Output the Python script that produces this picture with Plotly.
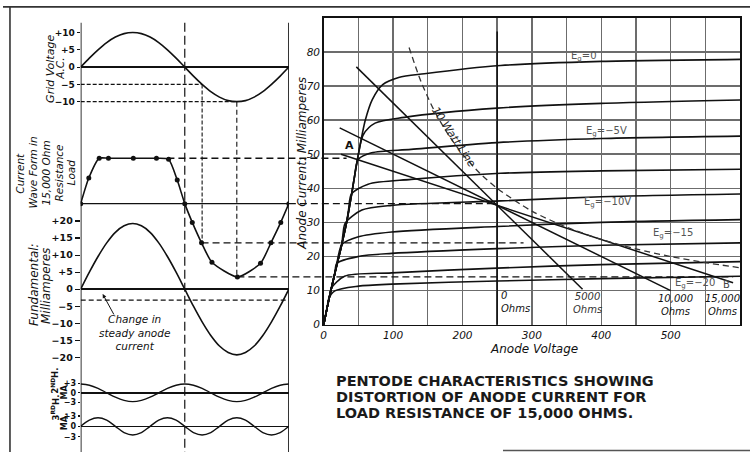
import plotly.graph_objects as go

W, H = 750, 458

# ---------------- data ----------------
# left-hand waveforms (one cycle, degrees)
deg = [0, 15, 30, 45, 60, 75, 90, 105, 120, 135, 150, 165, 180,
       195, 210, 225, 240, 255, 270, 285, 300, 315, 330, 345, 360]
grid_volts = [0, 2.6, 5, 7.1, 8.7, 9.7, 10, 9.7, 8.7, 7.1, 5, 2.6, 0,
              -2.6, -5, -7.1, -8.7, -9.7, -10, -9.7, -8.7, -7.1, -5, -2.6, 0]
fundamental_ma = [0, 5, 9.6, 13.6, 16.7, 18.6, 19.3, 18.6, 16.7, 13.6, 9.6, 5, 0,
                  -5, -9.6, -13.6, -16.7, -18.6, -19.3, -18.6, -16.7, -13.6, -9.6, -5, 0]
second_h_ma = [2.8, 2.4, 1.4, 0, -1.4, -2.4, -2.8, -2.4, -1.4, 0, 1.4, 2.4, 2.8,
               2.4, 1.4, 0, -1.4, -2.4, -2.8, -2.4, -1.4, 0, 1.4, 2.4, 2.8]
third_h_ma = [0, 1.8, 2.5, 1.8, 0, -1.8, -2.5, -1.8, 0, 1.8, 2.5, 1.8, 0,
              -1.8, -2.5, -1.8, 0, 1.8, 2.5, 1.8, 0, -1.8, -2.5, -1.8, 0]

wave_deg = [0, 14, 32, 48, 91, 131, 152, 167, 180, 193, 209, 227, 271, 311, 329, 346, 360]
wave_ma = [35.5, 43, 48.8, 48.8, 48.8, 48.8, 48.5, 42.4, 35.5, 30, 24, 18.3, 14, 18, 24, 30, 35.5]

baseline_ma = 35.5
steady_change_ma = -3.2

# pentode characteristic: common rising envelope + plateau of each curve
knee_v = [0, 7, 16, 26, 33, 40, 50, 60]
knee_ma = [0, 7, 15, 23.5, 30, 38, 50, 60]
curve_v = [
    [60, 70, 85, 108, 145, 255, 400, 600],
    [50, 57, 74, 116, 250, 400, 600],
    [44, 50, 69, 126, 250, 400, 600],
    [36, 40, 64, 126, 255, 400, 600],
    [28, 31, 55, 98, 255, 400, 600],
    [22, 26, 50, 98, 250, 400, 600],
    [16, 19, 50, 98, 250, 400, 600],
    [9, 11, 30, 98, 250, 400, 600],
    [5, 7, 16, 50, 98, 250, 400, 600],
]
curve_ma = [
    [60, 66, 70.4, 72.5, 73.6, 76, 77.2, 77.8],
    [50, 55.7, 59.1, 60.8, 63.5, 64.9, 65.9],
    [43, 48.5, 50.4, 51.4, 53.4, 54.6, 55.3],
    [34, 38.3, 41.2, 42.6, 44.4, 45.1, 45.6],
    [27, 29.8, 33.6, 35, 36.3, 37.5, 38.3],
    [21, 23.5, 25.8, 27.2, 28.8, 30, 30.8],
    [15, 18, 20, 20.9, 22.3, 23.3, 24],
    [9, 10.7, 14.2, 15.2, 16.6, 17.6, 18.5],
    [5, 7.5, 9.9, 11.3, 11.9, 12.8, 13.5, 14.2],
]

# load lines (anode volts, mA)
load_0_v, load_0_ma = [250, 250], [0, 86]
load_5k_v, load_5k_ma = [47, 373], [75.6, 10.4]
load_10k_v, load_10k_ma = [23, 500], [57.7, 10]
load_15k_v, load_15k_ma = [25, 590], [50, 12.3]

# 10 watt dissipation line
watt_v = [123, 140, 160, 180, 200, 225, 250, 300, 350, 400, 450, 500, 550, 600]
watt_ma = [81.3, 71.4, 62.5, 55.6, 50, 44.4, 40, 33.3, 28.6, 25, 22.2, 20, 18.2, 16.7]

# projection lines (mA, start deg, end volts)
proj_top = (48.8, 150, 33)
proj_base = (35.5, 360, 250)
proj_mid = (24, 209, 288)
proj_low = (14, 271, 590)

# ---------------- geometry helpers ----------------
def px_x(px):
    return px / W

def px_y(py):
    return 1 - py / H

L_X0, L_X1 = 78, 287      # 0 deg, 360 deg
R_X0, R_X1 = 322, 740     # 0 V, 600 V
R_Y0, R_Y1 = 329, 18      # 0 mA, 90 mA
R_SCALE = (R_Y0 - R_Y1) / 90.0

def deg_paper(d):
    return px_x(L_X0 + d * (L_X1 - L_X0) / 360.0)

def volt_paper(v):
    return px_x(R_X0 + v * (R_X1 - R_X0) / 600.0)

class Panel:
    def __init__(self, top, bot, ref_py, scale):
        self.top, self.bot, self.ref_py, self.scale = top, bot, ref_py, scale
    def domain(self):
        return [px_y(self.bot), px_y(self.top)]
    def rng(self):
        return [-(self.bot - self.ref_py) / self.scale, (self.ref_py - self.top) / self.scale]
    def paper(self, v):
        return px_y(self.ref_py - v * self.scale)

P1 = Panel(20, 125, 68, 3.5)          # grid voltage
P2 = Panel(110, 300, R_Y0, R_SCALE)   # current wave form (same scale as right chart)
P3 = Panel(205, 380, 293, 3.45)       # fundamental
P4 = Panel(380, 415, 398, 3.2)        # 2nd harmonic
P5 = Panel(414, 452, 432, 3.5)        # 3rd harmonic

INK = '#111111'
GRID = '#6c6c6c'
FONT = 'DejaVu Sans'

fig = go.Figure()

def line_trace(x, y, xa, ya, width=1.6, dash=None, shape='spline', smoothing=1.0, color=INK):
    fig.add_trace(go.Scatter(x=x, y=y, xaxis=xa, yaxis=ya, mode='lines',
                             line=dict(color=color, width=width, dash=dash, shape=shape,
                                       smoothing=smoothing if shape == 'spline' else None),
                             hoverinfo='skip', showlegend=False))

# left waveforms
line_trace(deg, grid_volts, 'x', 'y')
fig.add_trace(go.Scatter(x=wave_deg, y=wave_ma, xaxis='x', yaxis='y2', mode='lines+markers',
                         line=dict(color=INK, width=1.6, shape='spline', smoothing=0.6),
                         marker=dict(color=INK, size=5), hoverinfo='skip', showlegend=False))
line_trace(deg, fundamental_ma, 'x', 'y3')
line_trace(deg, second_h_ma, 'x', 'y4', width=1.4)
line_trace(deg, third_h_ma, 'x', 'y5', width=1.4)

# characteristic curves
for cv, cm in zip(curve_v, curve_ma):
    xs = [v for v in knee_v if v < cv[0]] + cv
    ys = [m for v, m in zip(knee_v, knee_ma) if v < cv[0]] + cm
    line_trace(xs, ys, 'x2', 'y6', width=1.6, smoothing=0.8)

for lv, lm in [(load_0_v, load_0_ma), (load_5k_v, load_5k_ma),
               (load_10k_v, load_10k_ma), (load_15k_v, load_15k_ma)]:
    line_trace(lv, lm, 'x2', 'y6', width=1.5, shape='linear')

line_trace(watt_v, watt_ma, 'x2', 'y6', width=1.3, dash='6px,4px', smoothing=0.8, color='#333')

# ---------------- shapes ----------------
shapes = []
def add_line(x0, y0, x1, y1, xref, yref, width=1.5, dash='solid', color=INK):
    shapes.append(dict(type='line', x0=x0, y0=y0, x1=x1, y1=y1, xref=xref, yref=yref,
                       line=dict(color=color, width=width, dash=dash), layer='above'))

# page frame
add_line(px_x(0), px_y(7), px_x(750), px_y(7), 'paper', 'paper', 1.6, color='#333')
add_line(px_x(7), px_y(7), px_x(7), px_y(458), 'paper', 'paper', 1.6, color='#333')
add_line(px_x(502), px_y(456.5), px_x(750), px_y(456.5), 'paper', 'paper', 1.4, color='#555')

# left axis lines
add_line(0, px_y(23), 0, px_y(458), 'x', 'paper', 1.7)
add_line(360, px_y(23), 360, px_y(458), 'x', 'paper', 1.7)
add_line(180, px_y(23), 180, px_y(458), 'x', 'paper', 1.2, '9px,4px')

# current baseline & steady change
add_line(0, baseline_ma, 360, baseline_ma, 'x', 'y2', 1.4)
add_line(0, steady_change_ma, 360, steady_change_ma, 'x', 'y3', 1.2, '5px,3px')

# grid voltage projections
add_line(0, -5, 210, -5, 'x', 'y', 1.1, '4px,2px')
add_line(0, -10, 270, -10, 'x', 'y', 1.1, '4px,2px')
add_line(210, P1.paper(-5), 210, P2.paper(proj_mid[0]), 'x', 'paper', 1.1, '4px,2px')
add_line(270, P1.paper(-10), 270, P2.paper(proj_low[0]), 'x', 'paper', 1.1, '5px,3px')

# current projections into the characteristic chart
for ma, d0, v1 in [proj_top, proj_base, proj_mid, proj_low]:
    add_line(deg_paper(d0), ma, volt_paper(v1), ma, 'paper', 'y6', 1.3, '7px,4px')

# ---------------- annotations ----------------
ann = []
def text(x, y, s, xref='paper', yref='paper', size=11, angle=0, italic=False, bold=False,
         color=INK, xanchor='center', yanchor='middle', align='center'):
    ann.append(dict(x=x, y=y, xref=xref, yref=yref, text=s, showarrow=False, textangle=angle,
                    xanchor=xanchor, yanchor=yanchor, align=align,
                    font=dict(family=FONT, size=size, color=color,
                              style='italic' if italic else 'normal',
                              weight='bold' if bold else 'normal')))

# left panel labels
text(px_x(57), px_y(70), 'A.C.', size=10.5, angle=-90, italic=True)
text(px_x(47), px_y(70), 'Grid Voltage', size=11, angle=-90, italic=True)
for xp, s in [(17, 'Current'), (30, 'Wave Form in'), (43, '15,000 Ohm'),
              (56, 'Resistance'), (68, 'Load')]:
    text(px_x(xp), px_y(175), s, size=10.5, angle=-90, italic=True)
text(px_x(31), px_y(288), 'Fundamental:', size=12, angle=-90, italic=True)
text(px_x(43), px_y(290), 'Milliamperes', size=12, angle=-90, italic=True)
text(px_x(52), px_y(386), '2<sup>ND</sup>H.', size=8.5, angle=-90, bold=True)
text(px_x(62), px_y(396), 'MA.', size=8, angle=-90, bold=True)
text(px_x(52), px_y(413), '3<sup>RD</sup>H.', size=8.5, angle=-90, bold=True)
text(px_x(62), px_y(427), 'MA.', size=8, angle=-90, bold=True)
text(px_x(132), px_y(337), 'Change in<br>steady anode<br>current', size=10.5, italic=True)
ann.append(dict(x=38, y=-1.4, xref='x', yref='y3', text='', showarrow=True,
                ax=12, ay=22, arrowhead=2, arrowsize=0.8, arrowwidth=1, arrowcolor=INK))

# right chart labels
text(px_x(300), px_y(165), 'Anode Current: Milliamperes', size=12, angle=-90, italic=True)
text(px_x(533), px_y(354), 'Anode Voltage', size=12, italic=True)
text(188, 55, '10 Watt Line', 'x2', 'y6', size=11, angle=56.5, italic=True, color='#222')
text(37, 52.4, 'A', 'x2', 'y6', size=11, bold=True)
text(581, 11.9, 'B', 'x2', 'y6', size=10, color='#444')
GRAY = '#555555'
text(375, 78.7, 'E<sub>g</sub>=0', 'x2', 'y6', size=10, color=GRAY)
text(408, 56.7, 'E<sub>g</sub>=−5V', 'x2', 'y6', size=10, color=GRAY)
text(409, 35.9, 'E<sub>g</sub>=−10V', 'x2', 'y6', size=10, color=GRAY)
text(504, 26.6, 'E<sub>g</sub>=−15', 'x2', 'y6', size=10, color=GRAY)
text(535, 12.2, 'E<sub>g</sub>=−20', 'x2', 'y6', size=10, color=GRAY)
text(253, 6.7, '0<br>Ohms', 'x2', 'y6', size=10, italic=True, xanchor='left', align='left')
text(380, 6.4, '5000<br>Ohms', 'x2', 'y6', size=10, italic=True, color='#333')
text(507, 5.9, '10,000<br>Ohms', 'x2', 'y6', size=10, italic=True)
text(574, 5.9, '15,000<br>Ohms', 'x2', 'y6', size=10, italic=True)

# caption
for py, s in [(386, 'PENTODE CHARACTERISTICS SHOWING'),
              (402, 'DISTORTION OF ANODE CURRENT FOR'),
              (418, 'LOAD RESISTANCE OF 15,000 OHMS.')]:
    text(px_x(332), px_y(py), s, size=14.5, bold=True, xanchor='left', color='#1a1a1a')

# ---------------- axes ----------------
def left_y(panel, vals, labels, size=9.5, ticklen=4, anchor='x'):
    d = dict(domain=panel.domain(), range=panel.rng(), anchor=anchor,
             showgrid=False, showline=False, fixedrange=True)
    if vals:
        d.update(tickmode='array', tickvals=vals, ticktext=labels, ticks='outside',
                 ticklen=ticklen, tickwidth=1.2, tickcolor=INK,
                 tickfont=dict(family=FONT, size=size, color=INK, weight='bold'),
                 zeroline=True, zerolinecolor=INK, zerolinewidth=1.5)
    else:
        d.update(showticklabels=False, ticks='', zeroline=False)
    return d

fig.update_layout(
    width=W, height=H, autosize=False,
    margin=dict(l=0, r=0, t=0, b=0),
    paper_bgcolor='white', plot_bgcolor='rgba(0,0,0,0)',
    showlegend=False,
    xaxis=dict(domain=[deg_paper(0), deg_paper(360)], range=[0, 360], visible=False,
               anchor='y', fixedrange=True),
    yaxis=left_y(P1, [-10, -5, 0, 5, 10], ['−10', '−5', '0', '+5', '+10'], size=9, ticklen=3),
    yaxis2=left_y(P2, None, None),
    yaxis3=left_y(P3, [-20, -15, -10, -5, 0, 5, 10, 15, 20],
                  ['−20', '−15', '−10', '−5', '0', '+5', '+10', '+15', '+20'], ticklen=5),
    yaxis4=left_y(P4, [-3, 0, 3], ['−3', '0', '+3'], size=8, ticklen=2),
    yaxis5=left_y(P5, [-3, 0, 3], ['−3', '0', '+3'], size=8, ticklen=2),
    xaxis2=dict(domain=[volt_paper(0), volt_paper(600)], range=[0, 600], anchor='y6',
                tickmode='array', tickvals=list(range(0, 601, 50)),
                ticktext=[str(v) if v % 100 == 0 else '' for v in range(0, 601, 50)],
                showgrid=True, gridcolor=GRID, gridwidth=1.4,
                showline=True, mirror=True, linecolor=INK, linewidth=1.6,
                zeroline=False, ticks='', fixedrange=True,
                tickfont=dict(family=FONT, size=10.5, color=INK, style='italic')),
    yaxis6=dict(domain=[px_y(R_Y0), px_y(R_Y1)], range=[0, 90], anchor='x2',
                tickmode='array', tickvals=list(range(0, 81, 10)),
                showgrid=True, gridcolor=GRID, gridwidth=1.4,
                showline=True, mirror=True, linecolor=INK, linewidth=1.6,
                zeroline=False, ticks='', fixedrange=True,
                tickfont=dict(family=FONT, size=10.5, color=INK, style='italic')),
    shapes=shapes,
    annotations=ann,
)

fig.write_html("out.html", config={'displayModeBar': False, 'staticPlot': True},
               post_script="document.body.style.margin='0';document.body.style.overflow='hidden';")
